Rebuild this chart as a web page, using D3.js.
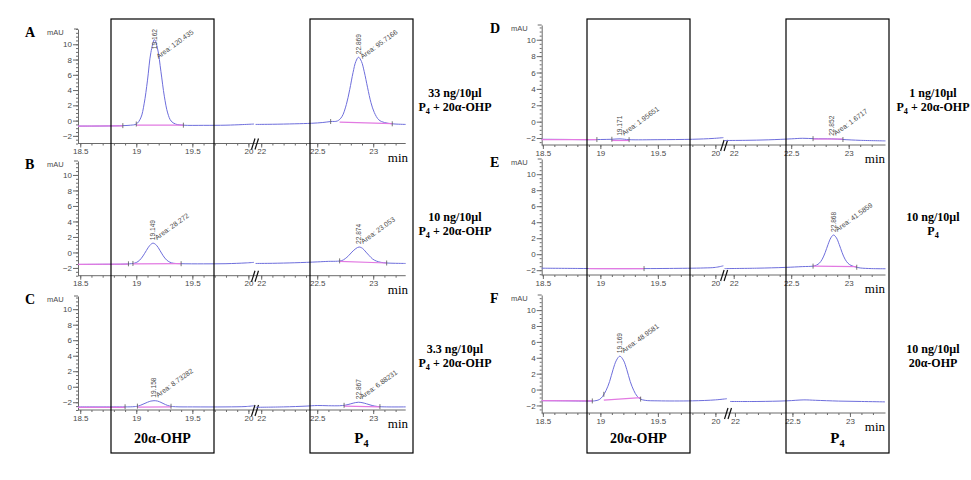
<!DOCTYPE html>
<html><head><meta charset="utf-8">
<script src="https://cdn.jsdelivr.net/npm/d3@7/dist/d3.min.js"></script>
<style>body{margin:0;background:#fff}svg{display:block}</style>
</head><body>
<script>
// ---------------- data ----------------
const yTickValues = [-2, 0, 2, 4, 6, 8, 10];
const xTickLabelsLeft = [18.5, 19, 19.5, 20];
const xTickLabelsRight = [22, 22.5, 23];
const panelIds = ["A", "B", "C", "D", "E", "F"];

// traces: [retention time (min), signal (mAU)]
const traceA_left = [[18.48,-0.72],[18.6,-0.72],[18.75,-0.7],[18.88,-0.66],[18.95,-0.6],[19.0,-0.45],[19.04,0.35],[19.07,2.2],[19.10,5.3],[19.13,8.9],[19.162,10.6],[19.19,9.4],[19.22,6.4],[19.25,3.2],[19.28,1.0],[19.31,-0.05],[19.35,-0.45],[19.42,-0.6],[19.6,-0.62],[19.8,-0.6],[19.95,-0.52],[20.05,-0.45]];
const traceA_right = [[21.95,-0.5],[22.1,-0.48],[22.3,-0.42],[22.45,-0.35],[22.55,-0.25],[22.62,-0.12],[22.68,-0.05],[22.72,0.5],[22.76,2.1],[22.79,4.05],[22.82,6.3],[22.845,7.75],[22.869,8.3],[22.895,7.75],[22.92,6.4],[22.95,4.3],[22.98,2.35],[23.01,1.05],[23.05,0.1],[23.1,-0.25],[23.17,-0.42],[23.29,-0.5]];
const traceB_left = [[18.48,-1.55],[18.7,-1.53],[18.9,-1.5],[18.97,-1.42],[19.0,-1.3],[19.03,-1.0],[19.06,-0.45],[19.09,0.25],[19.12,0.9],[19.149,1.2],[19.18,0.93],[19.21,0.28],[19.24,-0.43],[19.27,-0.97],[19.30,-1.26],[19.33,-1.39],[19.4,-1.45],[19.6,-1.47],[19.8,-1.45],[19.98,-1.35],[20.05,-1.28]];
const traceB_right = [[21.95,-1.42],[22.1,-1.4],[22.3,-1.33],[22.5,-1.22],[22.6,-1.15],[22.68,-1.13],[22.72,-1.05],[22.75,-0.8],[22.78,-0.42],[22.81,0.05],[22.845,0.5],[22.874,0.7],[22.905,0.52],[22.935,0.05],[22.965,-0.42],[22.995,-0.85],[23.03,-1.12],[23.07,-1.28],[23.12,-1.36],[23.2,-1.4],[23.29,-1.42]];
const traceC_left = [[18.48,-2.6],[18.8,-2.6],[18.98,-2.57],[19.02,-2.48],[19.06,-2.25],[19.1,-2.0],[19.13,-1.85],[19.158,-1.8],[19.19,-1.85],[19.22,-2.02],[19.26,-2.3],[19.3,-2.5],[19.35,-2.58],[19.5,-2.6],[19.8,-2.6],[19.98,-2.55],[20.05,-2.45]];
const traceC_right = [[21.95,-2.65],[22.2,-2.6],[22.4,-2.5],[22.5,-2.42],[22.6,-2.45],[22.7,-2.45],[22.75,-2.38],[22.8,-2.2],[22.84,-2.05],[22.867,-2.0],[22.9,-2.05],[22.94,-2.2],[22.99,-2.42],[23.04,-2.55],[23.12,-2.6],[23.29,-2.6]];
const traceD_left = [[18.49,-2.15],[18.7,-2.17],[18.9,-2.2],[19.0,-2.18],[19.1,-2.15],[19.171,-2.1],[19.25,-2.2],[19.5,-2.2],[19.8,-2.15],[19.98,-2.05],[20.07,-1.95]];
const traceD_right = [[21.92,-2.3],[22.1,-2.28],[22.3,-2.22],[22.5,-2.1],[22.6,-2.03],[22.7,-2.08],[22.852,-2.1],[22.95,-2.18],[23.1,-2.28],[23.32,-2.35]];
const traceE_left = [[18.49,-1.75],[18.8,-1.78],[19.0,-1.8],[19.38,-1.8],[19.6,-1.78],[19.9,-1.72],[20.0,-1.65],[20.07,-1.45]];
const traceE_right = [[21.92,-1.8],[22.2,-1.75],[22.45,-1.65],[22.6,-1.55],[22.69,-1.49],[22.72,-1.36],[22.745,-1.12],[22.77,-0.62],[22.795,0.19],[22.82,1.2],[22.845,2.05],[22.868,2.4],[22.893,2.05],[22.918,1.2],[22.943,0.19],[22.968,-0.62],[22.993,-1.12],[23.02,-1.4],[23.06,-1.6],[23.1,-1.72],[23.2,-1.8],[23.32,-1.82]];
const traceF_left = [[18.49,-1.4],[18.7,-1.42],[18.9,-1.45],[18.95,-1.42],[18.99,-1.27],[19.02,-0.85],[19.05,-0.1],[19.08,1.0],[19.11,2.5],[19.14,3.7],[19.169,4.2],[19.2,3.7],[19.23,2.5],[19.26,1.0],[19.29,-0.1],[19.32,-0.85],[19.35,-1.2],[19.39,-1.36],[19.5,-1.42],[19.8,-1.42],[20.0,-1.3],[20.1,-1.15]];
const traceF_right = [[21.957,-1.5],[22.2,-1.5],[22.45,-1.42],[22.6,-1.3],[22.7,-1.35],[22.9,-1.45],[23.1,-1.5],[23.305,-1.55]];

// integration baselines (pink)
const pinkA = [[[18.48,-0.72],[18.88,-0.68]],[[19.0,-0.6],[19.42,-0.6]],[[22.7,-0.2],[23.17,-0.4]]];
const pinkB = [[[18.48,-1.55],[18.93,-1.5]],[[18.97,-1.47],[19.4,-1.45]],[[22.7,-1.15],[23.12,-1.36]]];
const pinkC = [[[18.48,-2.65],[18.9,-2.65]],[[19.01,-2.62],[19.31,-2.6]],[[22.74,-2.5],[23.06,-2.6]]];
const pinkD = [[[18.49,-2.2],[18.97,-2.2]],[[19.1,-2.3],[19.25,-2.3]],[[22.69,-2.12],[22.95,-2.12]]];
const pinkE = [[[18.9,-1.8],[19.38,-1.8]],[[22.69,-1.5],[23.07,-1.55]]];
const pinkF = [[[18.49,-1.4],[18.93,-1.42]],[[19.03,-1.32],[19.35,-1.02]]];

// integration event marks (min)
const marksA = [18.88, 19.0, 19.42, 22.62, 23.17];
const marksB = [18.93, 18.97, 19.4, 22.7, 23.12];
const marksC = [18.9, 19.01, 19.31, 22.74, 23.06];
const marksD = [18.97, 19.1, 19.25, 22.69, 22.95];
const marksE = [19.38, 22.69, 23.07];
const marksF = [18.93, 19.03, 19.35];

// peak annotations
const peaksA = [{rt:"19.162", area:"120.435"}, {rt:"22.869", area:"95.7166"}];
const peaksB = [{rt:"19.149", area:"28.272"}, {rt:"22.874", area:"23.053"}];
const peaksC = [{rt:"19.158", area:"8.73282"}, {rt:"22.867", area:"6.88231"}];
const peaksD = [{rt:"19.171", area:"1.95651"}, {rt:"22.852", area:"1.6717"}];
const peaksE = [{rt:"22.868", area:"41.5859"}];
const peaksF = [{rt:"19.169", area:"48.9581"}];

const condLeft = [["33 ng/10µl", true], ["10 ng/10µl", true], ["3.3 ng/10µl", true]];
const condRight = [["1 ng/10µl", "mix"], ["10 ng/10µl", "P4"], ["10 ng/10µl", "OHP"]];

// ---------------- drawing ----------------
const W = 971, H = 480;
const svg = d3.select("body").append("svg").attr("width", W).attr("height", H);
const blue = "#6e6edc", pink = "#e27ae2", axisCol = "#6a6a6a", txtCol = "#4a4a4a";

const layout = {
  A:{col:0, yTop:29, yBot:143.5, dom:[-3,12], tr:[traceA_left,traceA_right], pk:pinkA, mk:marksA, pe:peaksA},
  B:{col:0, yTop:161, yBot:275.7, dom:[-3,11.8], tr:[traceB_left,traceB_right], pk:pinkB, mk:marksB, pe:peaksB},
  C:{col:0, yTop:296, yBot:410, dom:[-3,11.7], tr:[traceC_left,traceC_right], pk:pinkC, mk:marksC, pe:peaksC},
  D:{col:1, yTop:25, yBot:145, dom:[-2.85,11.8], tr:[traceD_left,traceD_right], pk:pinkD, mk:marksD, pe:peaksD},
  E:{col:1, yTop:159, yBot:275, dom:[-2.6,11.9], tr:[traceE_left,traceE_right], pk:pinkE, mk:marksE, pe:peaksE},
  F:{col:1, yTop:295, yBot:413, dom:[-2.95,11.9], tr:[traceF_left,traceF_right], pk:pinkF, mk:marksF, pe:peaksF, alt:true}
};
const cols = [
  {x0:78, xEnd:405.7, L:{d:[18.48,20.05], r:[78,254]}, R:{d:[21.95,23.29], r:[255.6,405.7]}, brk:254.5, minX:408, letterX:25, mauX:47},
  {x0:541.7, xEnd:885.5, L:{d:[18.49,20.07], r:[541.7,723.4]}, R:{d:[21.92,23.32], r:[724.5,885.5]}, brk:723.6, minX:885, letterX:490, mauX:511}
];
const altF = {L:{d:[18.49,20.1], r:[541.7,726.9]}, R:{d:[21.957,23.305], r:[730,885]}, brk:727.5};

function valAt(tr, t){
  for (let i=0;i<tr.length-1;i++){
    const [t0,v0]=tr[i],[t1,v1]=tr[i+1];
    if (t>=t0 && t<=t1) return v0+(v1-v0)*(t-t0)/(t1-t0);
  }
  return tr[tr.length-1][1];
}

panelIds.forEach(id => {
  const P = layout[id];
  const C = cols[P.col];
  const segs = P.alt ? altF : C;
  const brk = P.alt ? altF.brk : C.brk;
  const xL = d3.scaleLinear().domain(segs.L.d).range(segs.L.r);
  const xR = d3.scaleLinear().domain(segs.R.d).range(segs.R.r);
  const xs = t => (t < 21 ? xL(t) : xR(t));
  const y = d3.scaleLinear().domain(P.dom).range([P.yBot, P.yTop]);
  const g = svg.append("g");

  // y axis
  const yMinor = d3.range(Math.ceil(P.dom[0]*2)/2, P.dom[1]+0.001, 0.5);
  g.append("g").attr("transform", `translate(${C.x0},0)`)
    .call(d3.axisLeft(y).tickValues(yMinor).tickSize(2).tickSizeOuter(0).tickFormat(""))
    .call(s => { s.select(".domain").attr("stroke", axisCol); s.selectAll("line").attr("stroke", axisCol); });
  g.append("g").attr("transform", `translate(${C.x0},0)`)
    .call(d3.axisLeft(y).tickValues(yTickValues).tickSize(5).tickPadding(1).tickSizeOuter(0))
    .call(s => {
      s.select(".domain").remove();
      s.selectAll("line").attr("stroke", axisCol);
      s.selectAll("text").attr("fill", txtCol).attr("font-family", "Arial, 'Liberation Sans', sans-serif").attr("font-size", 8);
    });
  g.append("line").attr("x1", C.x0-4).attr("x2", C.x0).attr("y1", P.yTop).attr("y2", P.yTop).attr("stroke", axisCol);

  // x axis
  g.append("line").attr("x1", C.x0).attr("x2", C.xEnd).attr("y1", P.yBot).attr("y2", P.yBot).attr("stroke", axisCol);
  const minorL = d3.range(185, 201).map(d => d/10);
  const minorR = d3.range(220, 233).map(d => d/10);
  [[xL, minorL, xTickLabelsLeft], [xR, minorR, xTickLabelsRight]].forEach(([sc, mn, lab]) => {
    g.append("g").attr("transform", `translate(0,${P.yBot})`)
      .call(d3.axisBottom(sc).tickValues(mn).tickSize(2).tickSizeOuter(0).tickFormat(""))
      .call(s => { s.select(".domain").remove(); s.selectAll("line").attr("stroke", axisCol); });
    g.append("g").attr("transform", `translate(0,${P.yBot})`)
      .call(d3.axisBottom(sc).tickValues(lab).tickSize(4).tickPadding(1).tickSizeOuter(0).tickFormat(d3.format("")))
      .call(s => {
        s.select(".domain").remove();
        s.selectAll("line").attr("stroke", axisCol);
        s.selectAll("text").attr("fill", txtCol).attr("font-family", "Arial, 'Liberation Sans', sans-serif").attr("font-size", 8);
      });
  });
  // break mark
  [0, 3.5].forEach(o => {
    g.append("line").attr("x1", brk-3+o).attr("y1", P.yBot+6).attr("x2", brk+0.5+o).attr("y2", P.yBot-5)
      .attr("stroke", "#111").attr("stroke-width", 1.2);
  });

  // traces
  const line = d3.line().x(d => xs(d[0])).y(d => y(d[1])).curve(d3.curveCatmullRom.alpha(0.5));
  P.tr.forEach(tr => g.append("path").attr("d", line(tr)).attr("fill", "none").attr("stroke", blue).attr("stroke-width", 1));
  // integration baselines
  P.pk.forEach(seg => g.append("path").attr("d", d3.line().x(d => xs(d[0])).y(d => y(d[1]))(seg))
    .attr("fill", "none").attr("stroke", pink).attr("stroke-width", 1.2));
  // event marks
  P.mk.forEach(t => {
    const tr = t < 21 ? P.tr[0] : P.tr[1];
    const yy = y(valAt(tr, t));
    g.append("line").attr("x1", xs(t)).attr("x2", xs(t)).attr("y1", yy-2.5).attr("y2", yy+2.5).attr("stroke", "#555").attr("stroke-width", 0.8);
  });
  // peak annotations
  P.pe.forEach(p => {
    const t = +p.rt;
    const tr = t < 21 ? P.tr[0] : P.tr[1];
    const ax = xs(t), ay = y(valAt(tr, t));
    const rtText = g.append("text").text(p.rt)
      .attr("font-family", "Arial, 'Liberation Sans', sans-serif").attr("font-size", 6.6).attr("fill", txtCol);
    const len = rtText.node().getComputedTextLength();
    const bottom = Math.max(ay - 3, P.yTop + len);
    rtText.attr("transform", `translate(${ax+2.3},${bottom}) rotate(-90)`);
    const sy = Math.max(ay - 3, P.yTop + 30);
    g.append("text").text("Area: " + p.area)
      .attr("font-family", "Arial, 'Liberation Sans', sans-serif").attr("font-size", 7).attr("fill", txtCol)
      .attr("transform", `translate(${ax+4},${sy}) rotate(-36)`);
  });

  // panel letter + unit + min
  g.append("text").text(id).attr("x", C.letterX).attr("y", P.yTop + 8)
    .attr("font-family", "'Liberation Serif', 'Times New Roman', serif").attr("font-weight", "bold").attr("font-size", 14).attr("fill", "#000");
  g.append("text").text("mAU").attr("x", C.mauX).attr("y", P.yTop + 6)
    .attr("font-family", "Arial, 'Liberation Sans', sans-serif").attr("font-size", 7.5).attr("fill", txtCol);
  g.append("text").text("min").attr("x", C.minX).attr("y", P.yBot + 18).attr("text-anchor", "end")
    .attr("font-family", "'Liberation Serif', 'Times New Roman', serif").attr("font-size", 13).attr("fill", "#000");
});

// region boxes
const boxes = [[111,214],[310,413],[587,690],[786,889]];
boxes.forEach(([a,b]) => svg.append("rect").attr("x", a).attr("y", 19).attr("width", b-a).attr("height", 434)
  .attr("fill", "none").attr("stroke", "#000").attr("stroke-width", 1.2));

const serif = "'Liberation Serif', 'Times New Roman', serif";
function p4Text(sel, x, yb, size, suffix) {
  const t = sel.append("text").attr("x", x).attr("y", yb).attr("text-anchor", "middle")
    .attr("font-family", serif).attr("font-weight", "bold").attr("font-size", size).attr("fill", "#000");
  t.append("tspan").text("P");
  t.append("tspan").text("4").attr("font-size", size*0.68).attr("dy", size*0.25);
  if (suffix) t.append("tspan").text(suffix).attr("dy", -size*0.25);
  return t;
}
// box labels
[[162.5],[638.5]].forEach(([cx]) => svg.append("text").text("20α-OHP").attr("x", cx).attr("y", 443).attr("text-anchor", "middle")
  .attr("font-family", serif).attr("font-weight", "bold").attr("font-size", 14).attr("fill", "#000"));
p4Text(svg, 361.5, 443, 15, null);
p4Text(svg, 837.5, 443, 15, null);

// condition labels
const condY = [97, 221, 353];
condLeft.forEach((c, i) => {
  svg.append("text").text(c[0]).attr("x", 455).attr("y", condY[i]).attr("text-anchor", "middle")
    .attr("font-family", serif).attr("font-weight", "bold").attr("font-size", 12);
  p4Text(svg, 455, condY[i] + 14, 12, " + 20α-OHP");
});
condRight.forEach((c, i) => {
  svg.append("text").text(c[0]).attr("x", 933).attr("y", condY[i]).attr("text-anchor", "middle")
    .attr("font-family", serif).attr("font-weight", "bold").attr("font-size", 12);
  if (c[1] === "mix") p4Text(svg, 933, condY[i] + 14, 12, " + 20α-OHP");
  else if (c[1] === "P4") p4Text(svg, 933, condY[i] + 14, 12, null);
  else svg.append("text").text("20α-OHP").attr("x", 933).attr("y", condY[i] + 14).attr("text-anchor", "middle")
    .attr("font-family", serif).attr("font-weight", "bold").attr("font-size", 12);
});
</script>
</body></html>
